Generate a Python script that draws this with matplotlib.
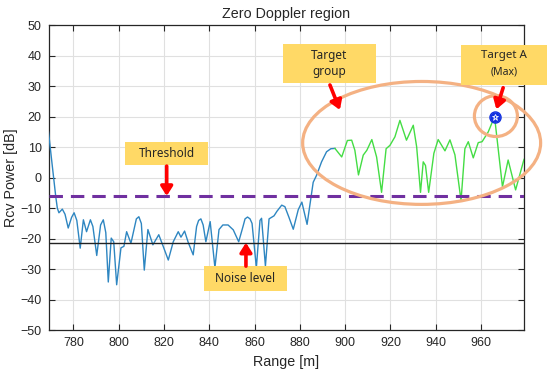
import numpy as np
import matplotlib
matplotlib.use("Agg")
import matplotlib.pyplot as plt
from matplotlib.patches import Ellipse, Rectangle

# ---------------- data ----------------
blue_range = [769.0, 770.5, 772.2, 772.9, 773.6, 775.1, 776.3, 777.7, 779.2, 780.3,
              781.5, 783.0, 784.4, 785.8, 787.5, 788.6, 790.3, 792.0, 793.2, 794.3,
              795.4, 796.7, 797.8, 799.1, 801.0, 802.3, 803.5, 805.4, 807.8, 808.9,
              810.0, 811.3, 812.9, 815.1, 817.7, 819.7, 821.9, 824.1, 826.3, 827.5,
              829.1, 830.7, 832.9, 834.4, 835.3, 836.3, 837.3, 838.5, 840.4, 842.5,
              844.3, 846.0, 848.3, 850.6, 853.0, 854.9, 855.8, 856.9, 858.0, 858.9,
              860.8, 862.4, 863.1, 864.8, 866.4, 868.6, 869.9, 872.0, 873.4, 875.2,
              877.1, 879.3, 880.9, 883.2, 885.9, 887.4, 889.6, 891.8, 893.7, 895.5]
blue_db = [15.0, 5.0, -6.2, -10.0, -11.5, -10.3, -12.0, -16.5, -13.0, -11.5,
           -14.0, -23.1, -13.8, -17.7, -13.8, -16.0, -25.5, -15.5, -13.8, -18.0,
           -34.2, -19.8, -21.0, -35.1, -23.0, -22.5, -17.7, -21.5, -13.5, -12.8,
           -15.0, -30.3, -17.0, -22.0, -18.7, -22.6, -27.0, -21.0, -17.7, -19.5,
           -17.5, -21.2, -25.3, -16.0, -14.0, -13.5, -15.5, -21.0, -14.4, -29.5,
           -17.0, -15.5, -15.5, -17.1, -21.0, -16.0, -13.5, -12.9, -13.5, -15.0,
           -29.5, -14.0, -13.3, -29.0, -13.5, -12.5, -11.0, -9.0, -9.5, -13.0,
           -16.9, -10.5, -8.0, -15.3, -1.5, 0.8, 5.2, 8.5, 9.5, 9.6]

green_range = [895.5, 898.5, 901.0, 902.9, 904.3, 905.9, 908.0, 909.6, 911.8, 913.9,
               916.1, 918.1, 919.8, 922.0, 924.2, 927.1, 930.1, 931.6, 933.3, 934.5,
               935.5, 936.9, 939.2, 941.1, 944.1, 946.3, 948.5, 951.2, 952.9, 954.4,
               956.6, 958.8, 960.5, 963.2, 966.0, 969.5, 972.0, 975.3, 979.0]
green_db = [9.6, 6.8, 12.2, 12.3, 9.0, 0.9, 7.4, 9.0, 12.5, 6.8,
            -4.8, 9.5, 10.6, 13.4, 18.8, 12.3, 17.2, 10.1, -4.8, 5.2,
            4.0, -4.8, 8.0, 12.5, 8.8, 12.4, 7.5, -7.5, 9.5, 11.8,
            6.5, 11.5, 11.8, 15.0, 20.0, -3.0, 5.8, -4.0, 6.0]

threshold_db = -6.0
noise_db = -21.3

x_ticks = [780, 800, 820, 840, 860, 880, 900, 920, 940, 960]
y_ticks = [-50, -40, -30, -20, -10, 0, 10, 20, 30, 40, 50]

# ---------------- figure ----------------
plt.rcParams['font.family'] = ['Liberation Sans', 'DejaVu Sans']
fig = plt.figure(figsize=(5.5, 3.76), dpi=100)
ax = fig.add_axes([0.0882, 0.1218, 0.8645, 0.8112])

txtc = '#262626'
ax.grid(True, color='#e0e0e0', linewidth=0.8)
ax.set_axisbelow(True)

ax.plot(blue_range, blue_db, color='#2E86C1', lw=1.0, zorder=3)
ax.plot(green_range, green_db, color='#44DD44', lw=1.0, zorder=3)

ax.axhline(noise_db, color='#222222', lw=1.0, zorder=3)
ax.axhline(threshold_db, color='#7030A0', lw=2.2, dashes=(4.4, 2.6), zorder=4)

# max marker
gi = int(np.argmax(green_db))
ax.plot(green_range[gi], green_db[gi], 'o', ms=6.5, mfc='#1030E0', mec='#1030E0', zorder=6)
ax.plot(green_range[gi], green_db[gi], '*', ms=5, mfc='none', mec='white', mew=0.6, zorder=7)
ax.plot(green_range[gi], green_db[gi], 'o', ms=8, mfc='none', mec='#1030E0', mew=1.0, zorder=7)

ax.set_xlim(769, 979)
ax.set_ylim(-50, 50)
ax.set_xticks(x_ticks)
ax.set_yticks(y_ticks)
ax.tick_params(direction='in', top=True, right=True, length=4, width=0.8,
               labelsize=9, colors=txtc, labelcolor=txtc, pad=5)
for s in ax.spines.values():
    s.set_color('#262626')
    s.set_linewidth(0.9)

ax.set_title('Zero Doppler region', fontsize=10.3, color=txtc, pad=5)
ax.set_xlabel('Range [m]', fontsize=10.3, color=txtc, labelpad=4)
ax.set_ylabel('Rcv Power [dB]', fontsize=10.3, color=txtc, labelpad=2)

# ---------------- annotations ----------------
box_c = '#FFD966'
ell_c = '#F4B183'
afont = ['Noto Sans', 'DejaVu Sans']

ax.add_patch(Ellipse((933.8, 11.4), 105.1, 40.3, fill=False, ec=ell_c, lw=2.3,
                     zorder=8, clip_on=False))
ax.add_patch(Ellipse((966.6, 20.2), 19.0, 13.4, fill=False, ec=ell_c, lw=2.3,
                     zorder=8, clip_on=False))

def box(x0, x1, y0, y1):
    ax.add_patch(Rectangle((x0, y0), x1 - x0, y1 - y0, fc=box_c, ec='none',
                           zorder=9, clip_on=False))

box(802.8, 839.4, 4.2, 11.7)
ax.text(821.1, 8.0, 'Threshold', ha='center', va='center', fontsize=8.5,
        family=afont, color=txtc, zorder=10)
box(837.7, 874.3, -37.3, -29.0)
ax.text(856.0, -33.2, 'Noise level', ha='center', va='center', fontsize=8.5,
        family=afont, color=txtc, zorder=10)
box(872.4, 913.6, 31.0, 43.8)
ax.text(893.0, 37.4, 'Target\ngroup', ha='center', va='center', fontsize=8.5,
        family=afont, color=txtc, zorder=10, linespacing=1.25)
box(951.4, 989.1, 30.4, 43.5)
ax.text(970.2, 40.0, 'Target A', ha='center', va='center', fontsize=8.3,
        family=afont, color=txtc, zorder=10, clip_on=False)
ax.text(970.2, 34.5, '(Max)', ha='center', va='center', fontsize=7.5,
        family=afont, color=txtc, zorder=10, clip_on=False)

def arrow(x0, y0, x1, y1):
    ax.annotate('', xy=(x1, y1), xytext=(x0, y0),
                arrowprops=dict(arrowstyle='-|>,head_length=0.55,head_width=0.35',
                                color='#FF0000', lw=2.6, shrinkA=0, shrinkB=0),
                zorder=11, annotation_clip=False)

arrow(821.2, 3.8, 821.2, threshold_db)
arrow(856.2, -29.0, 856.2, noise_db)
arrow(893.3, 30.4, 897.7, 22.2)
arrow(969.8, 29.5, green_range[gi] + 0.8, green_db[gi] + 2.4)

fig.savefig('out.png', dpi=100)
